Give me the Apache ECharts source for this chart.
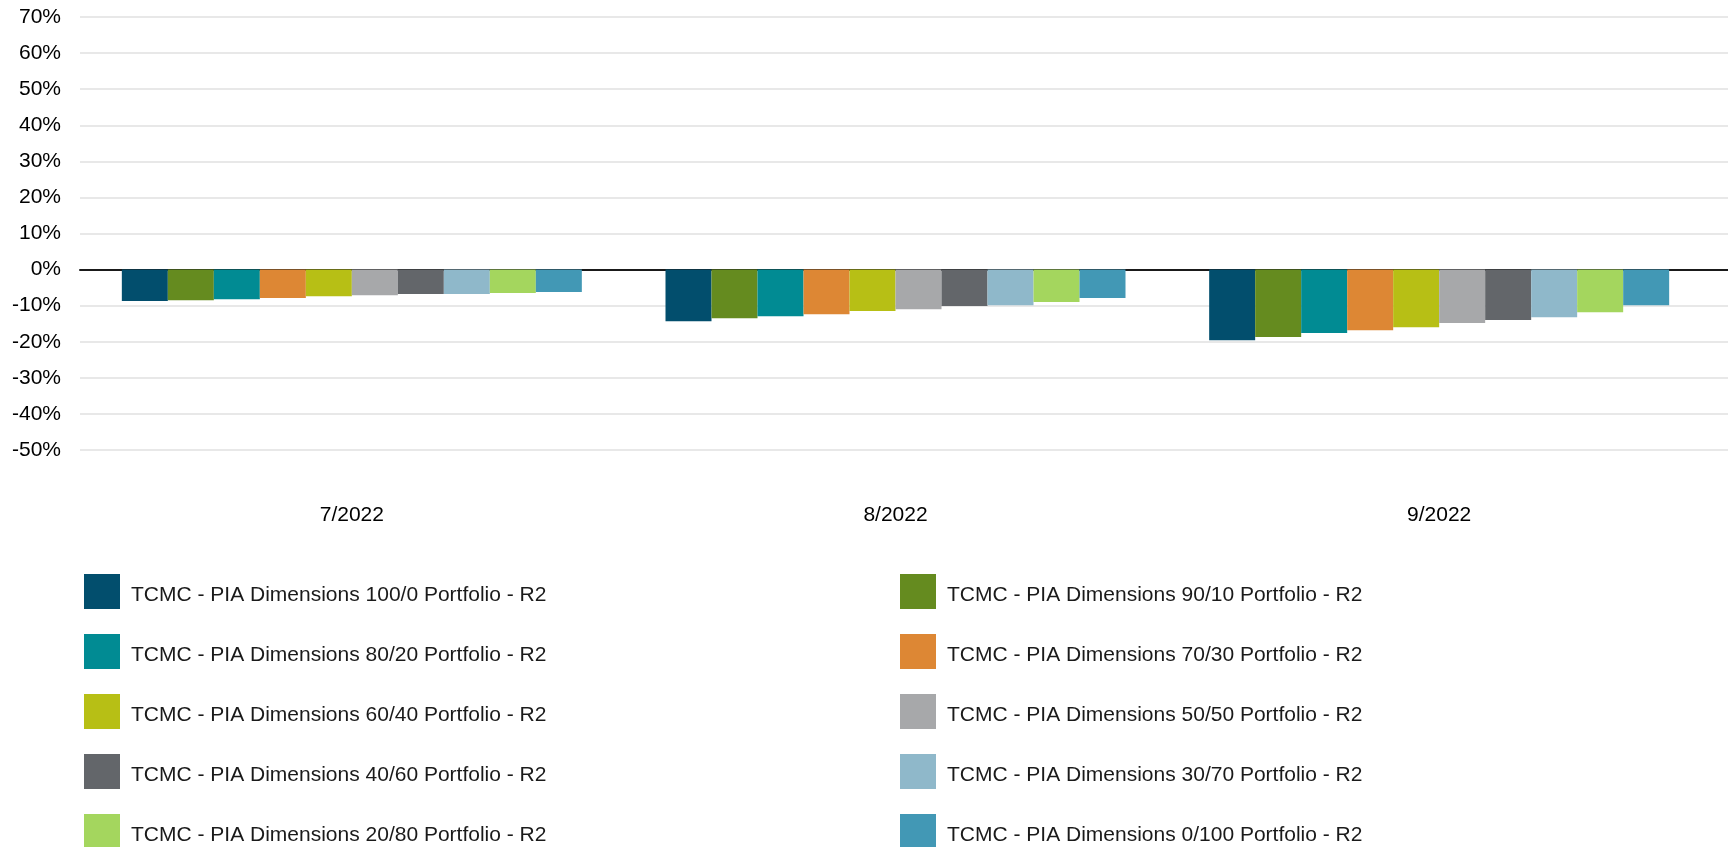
<!DOCTYPE html>
<html>
<head>
<meta charset="utf-8">
<title>TCMC - PIA Dimensions Portfolios - R2</title>
<script src="https://cdn.jsdelivr.net/npm/echarts@6/dist/echarts.min.js"></script>
<style>
  html, body { margin: 0; padding: 0; background: #ffffff; }
  #chart { width: 1728px; height: 847px; }
</style>
</head>
<body>
<div id="chart"></div>
<script>
// Monthly returns (%) for each portfolio
const months = ['7/2022', '8/2022', '9/2022'];

const seriesNames = [
  'TCMC - PIA Dimensions 100/0 Portfolio - R2',
  'TCMC - PIA Dimensions 90/10 Portfolio - R2',
  'TCMC - PIA Dimensions 80/20 Portfolio - R2',
  'TCMC - PIA Dimensions 70/30 Portfolio - R2',
  'TCMC - PIA Dimensions 60/40 Portfolio - R2',
  'TCMC - PIA Dimensions 50/50 Portfolio - R2',
  'TCMC - PIA Dimensions 40/60 Portfolio - R2',
  'TCMC - PIA Dimensions 30/70 Portfolio - R2',
  'TCMC - PIA Dimensions 20/80 Portfolio - R2',
  'TCMC - PIA Dimensions 0/100 Portfolio - R2'
];

const p100_0 = [-8.7, -14.3, -19.6];
const p90_10 = [-8.5, -13.5, -18.7];
const p80_20 = [-8.2, -12.9, -17.6];
const p70_30 = [-7.9, -12.4, -16.8];
const p60_40 = [-7.4, -11.5, -16.0];
const p50_50 = [-7.1, -11.0, -14.8];
const p40_60 = [-6.8, -10.1, -14.0];
const p30_70 = [-6.8, -9.9, -13.2];
const p20_80 = [-6.5, -9.0, -11.8];
const p0_100 = [-6.2, -7.9, -9.9];

const seriesValues = [p100_0, p90_10, p80_20, p70_30, p60_40, p50_50, p40_60, p30_70, p20_80, p0_100];

const colors = ['#024e6d', '#658b1f', '#018b93', '#dd8734', '#b7bf15',
                '#a7a8aa', '#63666a', '#8fb8ca', '#a4d65e', '#4298b5'];

const yTicks = { min: -50, max: 70, step: 10 };

const FONT = '"Liberation Sans", Arial, Helvetica, sans-serif';

const chart = echarts.init(document.getElementById('chart'), null, { renderer: 'canvas' });

const gridTop = 17;
const gridBottom = 397;

const series = seriesNames.map((name, i) => ({
  name: name,
  type: 'bar',
  xAxisIndex: 1,
  yAxisIndex: 1,
  data: seriesValues[i],
  barWidth: 46,
  barGap: '0%',
  itemStyle: { color: colors[i] },
  emphasis: { disabled: true }
}));

// Two legend columns: even-indexed portfolios on the left, odd on the right
const legendBase = {
  orient: 'vertical',
  top: 574,
  height: 420,
  padding: 0,
  itemWidth: 36,
  itemHeight: 35,
  itemGap: 25,
  icon: 'rect',
  selectedMode: false,
  formatter: '{t|{name}}',
  textStyle: {
    fontFamily: FONT,
    fontSize: 21,
    color: '#1a1a1a',
    rich: {
      t: {
        fontFamily: FONT,
        fontSize: 21,
        color: '#1a1a1a',
        padding: [8, 0, 0, 6]
      }
    }
  }
};

chart.setOption({
  backgroundColor: '#ffffff',
  animation: false,
  color: colors,
  legend: [
    Object.assign({}, legendBase, {
      left: 84,
      data: seriesNames.filter((_, i) => i % 2 === 0)
    }),
    Object.assign({}, legendBase, {
      left: 900,
      data: seriesNames.filter((_, i) => i % 2 === 1)
    })
  ],
  grid: [
    // full-width grid carrying the gridlines, y labels and the zero line
    { left: 80, right: 0, top: gridTop, bottom: gridBottom },
    // grid holding the bars and month labels
    { left: 80, right: 17, top: gridTop, bottom: gridBottom }
  ],
  xAxis: [
    {
      type: 'value',
      gridIndex: 0,
      min: 0,
      max: 1,
      axisLabel: { show: false },
      axisTick: { show: false },
      splitLine: { show: false },
      axisLine: { show: true, onZero: true, lineStyle: { color: '#1a1a1a', width: 2 } }
    },
    {
      type: 'category',
      gridIndex: 1,
      data: months,
      axisLine: { show: false },
      axisTick: { show: false },
      splitLine: { show: false },
      axisLabel: {
        fontFamily: FONT,
        fontSize: 21,
        color: '#000000',
        margin: 55
      }
    }
  ],
  yAxis: [
    {
      type: 'value',
      gridIndex: 0,
      min: yTicks.min,
      max: yTicks.max,
      interval: yTicks.step,
      axisLine: { show: false },
      axisTick: { show: false },
      axisLabel: {
        fontFamily: FONT,
        fontSize: 21,
        color: '#000000',
        margin: 19,
        padding: [4, 0, 0, 0],
        formatter: '{value}%'
      },
      splitLine: { show: true, lineStyle: { color: '#e8e8e8', width: 2 } }
    },
    {
      type: 'value',
      gridIndex: 1,
      min: yTicks.min,
      max: yTicks.max,
      interval: yTicks.step,
      axisLine: { show: false },
      axisTick: { show: false },
      axisLabel: { show: false },
      splitLine: { show: false }
    }
  ],
  series: series
});
</script>
</body>
</html>
